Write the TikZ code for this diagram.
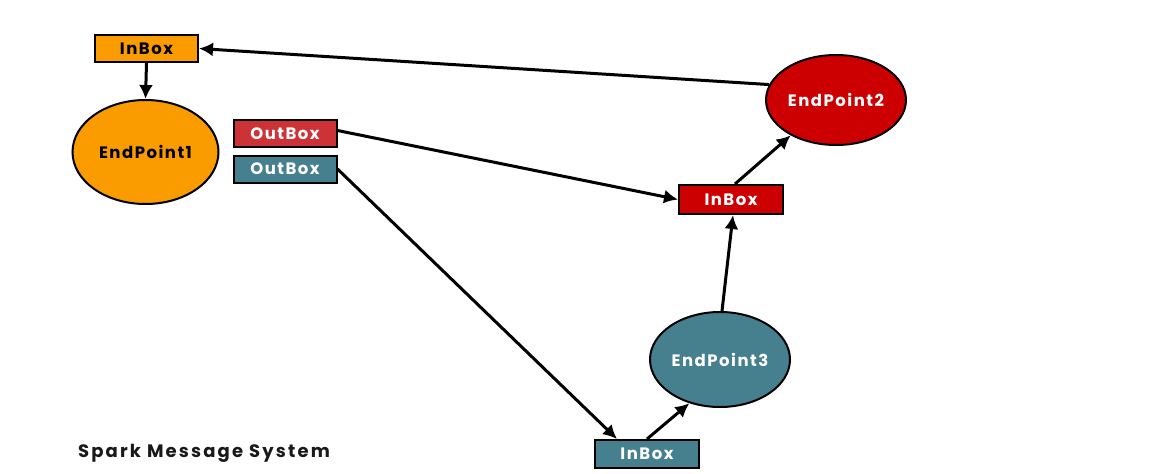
\documentclass[tikz,border=0pt]{standalone}
\usepackage{fontspec}
\setmainfont{Poppins}
\newfontfamily\diagfont{Poppins}[LetterSpace=9]
\newfontfamily\titlefont{Poppins}[LetterSpace=12]
\usetikzlibrary{arrows.meta,calc,shapes.geometric}
\definecolor{orangeF}{RGB}{250,155,0}
\definecolor{redE}{RGB}{204,0,0}
\definecolor{redO}{RGB}{205,50,55}
\definecolor{tealF}{RGB}{70,128,142}
\tikzset{
  box/.style={draw=black, line width=2pt, minimum width=103pt, minimum height=27pt, inner sep=0pt, font=\diagfont\fontsize{16.5}{16.5}\selectfont\bfseries},
  ell/.style={draw=black, line width=2pt, ellipse, inner sep=0pt, font=\diagfont\fontsize{16.5}{16.5}\selectfont\bfseries},
  conn/.style={line width=3pt, -{Latex[length=14pt,width=14pt]}},
}
\begin{document}
\begin{tikzpicture}[x=1pt,y=-1pt]
\path[use as bounding box] (0,0) rectangle (1149,474);
\node[box, fill=orangeF, text=black] (ib1) at (146.5,48.5) {InBox};
\node[ell, fill=orangeF, text=black, minimum width=146pt, minimum height=104pt] (ep1) at (145.5,152) {EndPoint1};
\node[box, fill=redO, text=white] (ob1) at (285,133.5) {OutBox};
\node[box, fill=tealF, text=white] (ob2) at (285,169) {OutBox};
\node[ell, fill=redE, text=white, minimum width=140pt, minimum height=90pt] (ep2) at (836,100) {EndPoint2};
\node[box, fill=redE, text=white, minimum width=104pt, minimum height=29pt] (ib2) at (731,199.5) {InBox};
\node[ell, fill=tealF, text=white, minimum width=140pt, minimum height=95pt] (ep3) at (720,359.5) {EndPoint3};
\node[box, fill=tealF, text=white, minimum width=104pt, minimum height=28pt] (ib3) at (647,454) {InBox};
\node[font=\titlefont\fontsize{18}{18}\selectfont\bfseries, text=black!90] (title) at (204,453) {Spark Message System};
\draw[conn] (ep2.167) -- (ib1.east);
\draw[conn] (ib1.south) -- (ep1.north);
\draw[conn] ([yshift=3]ob1.east) -- (ib2.west);
\draw[conn] (ob2.east) -- ([xshift=-30]ib3.north);
\draw[conn] (ib3.north) -- (ep3.235);
\draw[conn] ([xshift=2]ep3.north) -- ([xshift=2]ib2.south);
\draw[conn] ([xshift=4]ib2.north) -- (ep2.218);
\end{tikzpicture}
\end{document}
